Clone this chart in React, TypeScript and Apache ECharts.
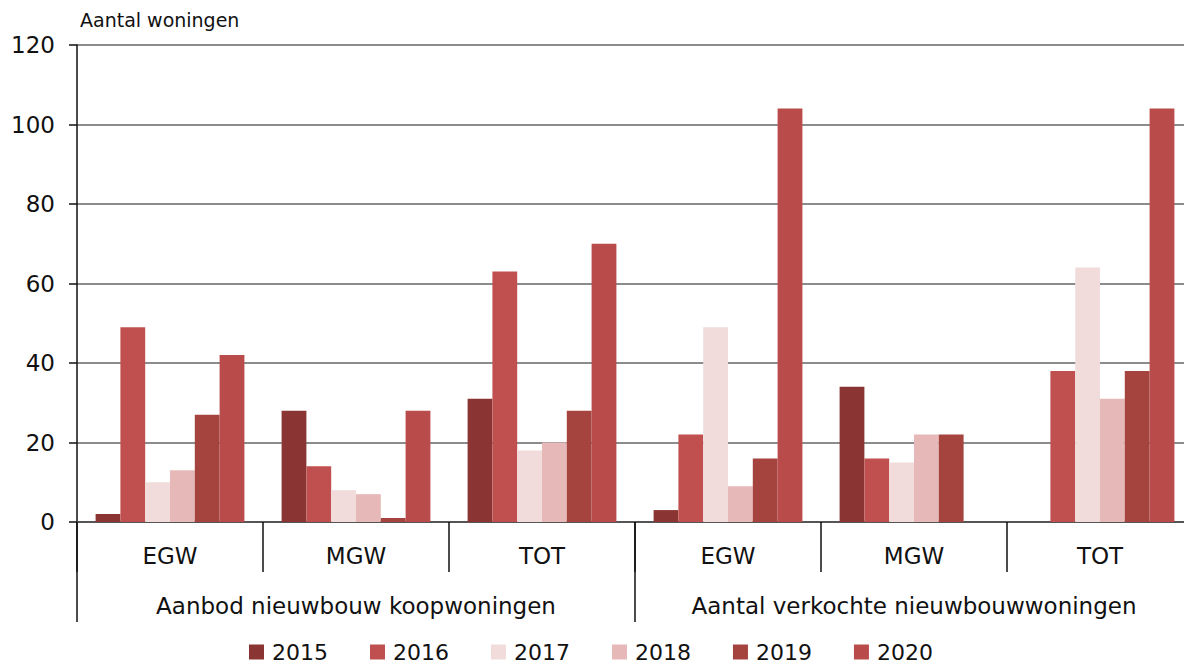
import React, { useEffect, useRef } from "react";
import * as echarts from "echarts";

const categories = ["EGW", "MGW", "TOT", "EGW ", "MGW ", "TOT "];
const groups = ["Aanbod nieuwbouw koopwoningen", "Aantal verkochte nieuwbouwwoningen"];
const years = ["2015", "2016", "2017", "2018", "2019", "2020"];
const v2015 = [2, 28, 31, 3, 34, 0];
const v2016 = [49, 14, 63, 22, 16, 38];
const v2017 = [10, 8, 18, 49, 15, 64];
const v2018 = [13, 7, 20, 9, 22, 31];
const v2019 = [27, 1, 28, 16, 22, 38];
const v2020 = [42, 28, 70, 104, 0, 104];
const colors = ["#8A3533", "#C0504F", "#F1DCDB", "#E6B8B7", "#A5433F", "#B94C4A"];
const yTicks = [0, 20, 40, 60, 80, 100, 120];

const FONT = "DejaVu Sans";

export default function App() {
  const ref = useRef<HTMLDivElement>(null);
  useEffect(() => {
    if (!ref.current) return;
    const chart = echarts.init(ref.current, undefined, { renderer: "svg" });
    const values = [v2015, v2016, v2017, v2018, v2019, v2020];
    chart.setOption({
      animation: false,
      textStyle: { fontFamily: FONT },
      title: {
        text: "Aantal woningen",
        left: 75,
        top: 5,
        textStyle: { fontFamily: FONT, fontSize: 19, fontWeight: "normal", color: "#111" },
      },
      legend: {
        top: 636,
        left: 244,
        itemWidth: 15,
        itemHeight: 15,
        itemGap: 42,
        icon: "rect",
        textStyle: { fontFamily: FONT, fontSize: 22, color: "#111", padding: [0, 0, 0, 3] },
        data: years,
      },
      grid: { left: 77, top: 45, width: 1116, height: 477, containLabel: false },
      xAxis: [
        {
          type: "category",
          data: categories,
          position: "bottom",
          axisLine: { show: true, lineStyle: { color: "#555", width: 2 } },
          axisTick: { show: true, interval: 0, length: 50, alignWithLabel: false, lineStyle: { color: "#111", width: 1.5 } },
          axisLabel: {
            interval: 0,
            margin: 22,
            fontSize: 23,
            fontFamily: FONT,
            color: "#111",
            formatter: (s: string) => s.trim(),
          },
        },
        {
          type: "category",
          data: groups,
          position: "bottom",
          gridIndex: 0,
          axisLine: { show: false },
          axisTick: { show: true, interval: 0, length: 100, lineStyle: { color: "#111", width: 1.5 } },
          axisLabel: { interval: 0, hideOverlap: false, margin: 72, fontSize: 23, fontFamily: FONT, color: "#111" },
        },
      ],
      yAxis: {
        type: "value",
        min: yTicks[0],
        max: yTicks[yTicks.length - 1],
        interval: 20,
        axisLine: { show: true, lineStyle: { color: "#111", width: 1.5 } },
        axisTick: { show: true, length: 8, lineStyle: { color: "#111", width: 1.5 } },
        axisLabel: { margin: 22, fontSize: 23, fontFamily: FONT, color: "#111" },
        splitLine: { show: true, lineStyle: { color: "#666", width: 1.5 } },
      },
      series: years.map((y, i) => ({
        name: y,
        type: "bar",
        xAxisIndex: 0,
        data: values[i],
        barGap: "0%",
        barCategoryGap: "20%",
        itemStyle: { color: colors[i] },
      })),
    });
    return () => chart.dispose();
  }, []);
  return (
    <div style={{ position: "fixed", left: 0, top: 0, width: 1184, height: 666, overflow: "hidden", background: "#fff" }}>
      <div ref={ref} style={{ width: 1200, height: 666 }} />
    </div>
  );
}
